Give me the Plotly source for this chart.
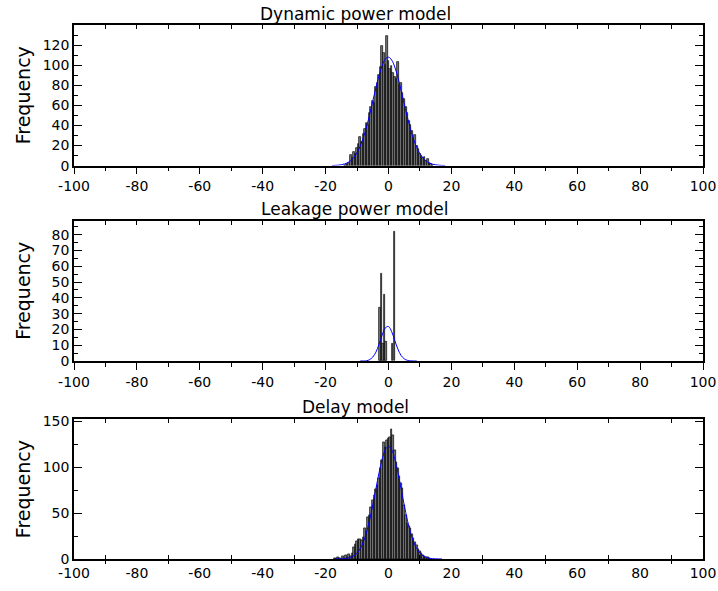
import plotly.graph_objects as go

# ---------------- data ----------------
dyn_bins = [-14.0, -13.5, -13.0, -12.5, -12.0, -11.5, -11.0, -10.5, -10.0, -9.5,
            -9.0, -8.5, -8.0, -7.5, -7.0, -6.5, -6.0, -5.5, -5.0, -4.5,
            -4.0, -3.5, -3.0, -2.5, -2.0, -1.5, -1.0, -0.5, 0.0, 0.5,
            1.0, 1.5, 2.0, 2.5, 3.0, 3.5, 4.0, 4.5, 5.0, 5.5,
            6.0, 6.5, 7.0, 7.5, 8.0, 8.5, 9.0, 9.5, 10.0, 10.5,
            11.0, 11.5, 12.0, 12.5, 13.0, 13.5, 14.0]
dyn_counts = [0, 1, 2, 3, 11, 8, 14, 12, 18, 22,
              28, 24, 31, 36, 42, 40, 52, 58, 64, 62,
              78, 82, 90, 98, 119, 112, 100, 129, 104, 96,
              99, 92, 88, 86, 103, 80, 82, 72, 66, 58,
              52, 44, 40, 34, 27, 30, 20, 17, 12, 10,
              8, 9, 5, 7, 3, 2, 1]

leak_bins = [-2.7, -2.2, -1.7, -1.2, -0.8, 1.35, 1.85]
leak_counts = [34, 55, 11, 42, 12, 11, 82]

delay_bins = [-17.0, -16.5, -16.0, -15.5, -15.0, -14.5, -14.0, -13.5, -13.0, -12.5,
              -12.0, -11.5, -11.0, -10.5, -10.0, -9.5, -9.0, -8.5, -8.0, -7.5,
              -7.0, -6.5, -6.0, -5.5, -5.0, -4.5, -4.0, -3.5, -3.0, -2.5,
              -2.0, -1.5, -1.0, -0.5, 0.0, 0.5, 1.0, 1.5, 2.0, 2.5,
              3.0, 3.5, 4.0, 4.5, 5.0, 5.5, 6.0, 6.5, 7.0, 7.5,
              8.0, 8.5, 9.0, 9.5, 10.0, 10.5, 11.0, 11.5, 12.0, 12.5, 13.0]
delay_counts = [1, 0, 2, 1, 0, 3, 1, 4, 2, 5,
                3, 6, 13, 16, 19, 21, 22, 20, 24, 34,
                30, 45, 48, 56, 64, 70, 76, 81, 88, 99,
                108, 127, 122, 130, 132, 133, 142, 135, 119, 106,
                99, 90, 83, 77, 59, 48, 39, 36, 34, 27,
                23, 18, 15, 11, 8, 6, 4, 3, 2, 2, 1]

dyn_fit_x = [-18, -17, -16, -15, -14, -13, -12, -11,
             -10, -9, -8, -7, -6, -5, -4, -3, -2, -1,
             0, 1, 2, 3, 4, 5, 6, 7, 8, 9,
             10, 11, 12, 13, 14, 15, 16, 17, 18]
dyn_fit = [0.1, 0.2, 0.4, 0.9, 1.6, 2.9, 5.0, 8.2,
           12.9, 19.4, 27.9, 38.4, 50.7, 64.1, 77.6, 90.0, 99.9, 106.1,
           108.0, 105.2, 98.2, 87.7, 75.0, 61.4, 48.2, 36.2, 26.0, 17.9,
           11.8, 7.5, 4.5, 2.6, 1.4, 0.8, 0.4, 0.2, 0.1]
leak_fit_x = [-9, -8, -7, -6, -5, -4, -3, -2, -1, 0, 1, 2, 3, 4, 5, 6, 7, 8, 9]
leak_fit = [0.0, 0.02, 0.11, 0.9, 2.5, 5.6, 10.7, 16.5, 21.0,
            21.8, 18.6, 13.0, 7.5, 3.5, 1.4, 0.4, 0.1, 0.02, 0.0]
delay_fit_x = [-17, -16, -15, -14, -13, -12, -11,
               -10, -9, -8, -7, -6, -5, -4, -3, -2, -1,
               0, 1, 2, 3, 4, 5, 6, 7, 8, 9,
               10, 11, 12, 13, 14, 15, 16, 17]
delay_fit = [0.05, 0.1, 0.2, 0.4, 0.8, 1.8, 3.5,
             6.4, 11.3, 18.6, 29.0, 42.5, 58.9, 76.7, 94.3, 109.3, 119.4,
             123.0, 119.4, 109.3, 94.3, 76.7, 58.9, 42.5, 29.0, 18.6, 11.3,
             6.4, 3.5, 1.8, 0.8, 0.4, 0.2, 0.1, 0.05]

titles = ["Dynamic power model", "Leakage power model", "Delay model"]
y_label = "Frequency"
x_ticks = [-100, -80, -60, -40, -20, 0, 20, 40, 60, 80, 100]
x_tick_text = ["-100", "-80", "-60", "-40", "-20", "0", "20", "40", "60", "80", "100"]
x_minor = [-90, -70, -50, -30, -10, 10, 30, 50, 70, 90]
y_ticks = [[0, 20, 40, 60, 80, 100, 120],
           [0, 10, 20, 30, 40, 50, 60, 70, 80],
           [0, 50, 100, 150]]

# ---------------- figure ----------------
W, H = 718, 591
FONT = "DejaVu Sans"

def px_x(p):
    return p / W

def px_y(p):
    return 1 - p / H

x_dom = [px_x(74), px_x(703)]
y_doms = [[px_y(165.6), px_y(25)], [px_y(361), px_y(220.7)], [px_y(559), px_y(419.3)]]
y_ranges = [[0, 140], [0, 88.8], [0, 152.5]]
y_minor = [10, 5, 25]

fig = go.Figure()

series = [(dyn_bins, dyn_counts, dyn_fit_x, dyn_fit, 0.5),
          (leak_bins, leak_counts, leak_fit_x, leak_fit, 0.42),
          (delay_bins, delay_counts, delay_fit_x, delay_fit, 0.5)]

for i, (bx, by, fx, fy, bw) in enumerate(series):
    xa = "x" if i == 0 else f"x{i+1}"
    ya = "y" if i == 0 else f"y{i+1}"
    fig.add_trace(go.Bar(x=bx, y=by, width=bw, xaxis=xa, yaxis=ya,
                         marker=dict(color="#7a7a7a", line=dict(color="black", width=0.7)),
                         showlegend=False))
    fig.add_trace(go.Scatter(x=fx, y=fy, xaxis=xa, yaxis=ya, mode="lines",
                             line=dict(color="#0000ff", width=1, shape="spline"),
                             showlegend=False))

# dummy traces so overlay tick axes are created
for ax, ay in [("x4", "y"), ("x5", "y2"), ("x6", "y3"), ("x7", "y3")]:
    fig.add_trace(go.Scatter(x=[None], y=[None], xaxis=ax, yaxis=ay, showlegend=False,
                             hoverinfo="skip"))

tickfont = dict(family=FONT, size=14, color="black")
common_line = dict(showline=True, linecolor="black", linewidth=1.5, showgrid=False,
                   zeroline=False, automargin=False)

layout = dict(width=W, height=H, margin=dict(l=0, r=0, t=0, b=0, autoexpand=False),
              template="none",
              paper_bgcolor="white", plot_bgcolor="white", bargap=0,
              font=dict(family=FONT, color="black"))

for i in range(3):
    xk = "xaxis" if i == 0 else f"xaxis{i+1}"
    yk = "yaxis" if i == 0 else f"yaxis{i+1}"
    anchor_y = "y" if i == 0 else f"y{i+1}"
    anchor_x = "x" if i == 0 else f"x{i+1}"
    if i < 2:
        layout[xk] = dict(domain=x_dom, anchor=anchor_y, range=[-100, 100],
                          tickvals=x_ticks, ticktext=x_tick_text,
                          ticks="outside", ticklen=7, tickwidth=1,
                          tickcolor="black",
                          minor=dict(tickvals=x_minor, ticks="outside", ticklen=4,
                                     tickwidth=1, tickcolor="black"),
                          mirror=True, tickfont=tickfont, **common_line)
    else:
        layout[xk] = dict(domain=x_dom, anchor=anchor_y, range=[-100, 100],
                          tickvals=x_ticks, ticktext=x_tick_text, ticks="",
                          mirror=True, tickfont=tickfont, **common_line)
    layout[yk] = dict(domain=y_doms[i], anchor=anchor_x, range=y_ranges[i],
                      tickvals=y_ticks[i], ticks="inside", ticklen=8, tickwidth=1,
                      tickcolor="black",
                      minor=dict(dtick=y_minor[i], tick0=0, ticks="inside", ticklen=4,
                                 tickwidth=1, tickcolor="black"),
                      mirror="ticks", tickfont=tickfont, **common_line)

overlay_common = dict(range=[-100, 100], showticklabels=False, showline=False,
                      showgrid=False, zeroline=False, tickcolor="black", tickwidth=1,
                      automargin=False)
# top inside ticks for panels 1 and 2
layout["xaxis4"] = dict(overlaying="x", anchor="y", side="top", dtick=10, tick0=0,
                        ticks="inside", ticklen=4, **overlay_common)
layout["xaxis5"] = dict(overlaying="x2", anchor="y2", side="top", dtick=10, tick0=0,
                        ticks="inside", ticklen=4, **overlay_common)
# crossing ticks for panel 3
layout["xaxis6"] = dict(overlaying="x3", anchor="y3", side="bottom", tickvals=x_minor,
                        ticks="inside", ticklen=4, mirror="ticks", **overlay_common)
layout["xaxis7"] = dict(overlaying="x3", anchor="y3", side="bottom", tickvals=x_minor,
                        ticks="outside", ticklen=4, **overlay_common)

annotations = []
title_centers = [13.5, 209, 407]
for i in range(3):
    annotations.append(dict(text=titles[i], x=px_x(355), y=px_y(title_centers[i]),
                            xref="paper", yref="paper", xanchor="center", yanchor="middle",
                            showarrow=False, font=dict(family=FONT, size=17, color="black")))
    yc = (y_doms[i][0] + y_doms[i][1]) / 2
    annotations.append(dict(text=y_label, x=px_x(23), y=yc, xref="paper", yref="paper",
                            xanchor="center", yanchor="middle", textangle=-90,
                            showarrow=False, font=dict(family=FONT, size=19, color="black")))
layout["annotations"] = annotations

fig.update_layout(**layout)
fig.write_html("out.html", config={"displayModeBar": False},
               post_script="document.body.style.margin='0';document.body.style.padding='0';")
